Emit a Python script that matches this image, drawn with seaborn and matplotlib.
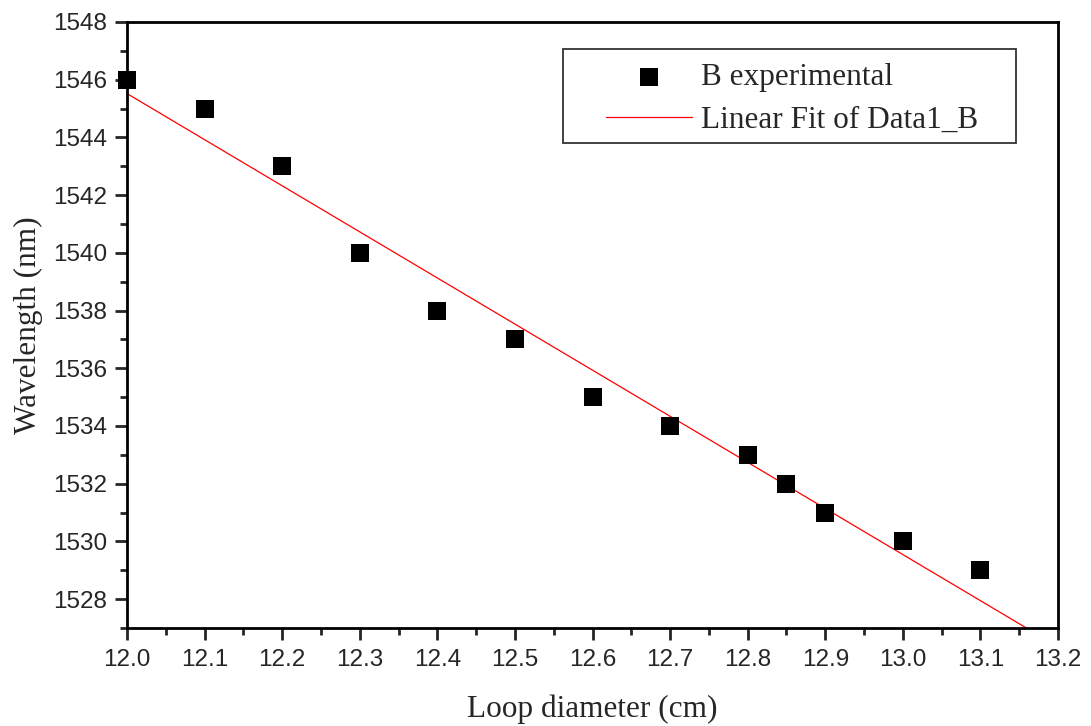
import numpy as np
import pandas as pd
import matplotlib
matplotlib.use('Agg')
import matplotlib.pyplot as plt
import seaborn as sns
from matplotlib.ticker import MultipleLocator
from matplotlib.patches import Rectangle

# dados
diametro = [12.0, 12.1, 12.2, 12.3, 12.4, 12.5, 12.6, 12.7, 12.8, 12.85, 12.9, 13.0, 13.1]
comprimento_onda = [1546, 1545, 1543, 1540, 1538, 1537, 1535, 1534, 1533, 1532, 1531, 1530, 1529]

# reta do ajuste linear (extremos)
fit_x = [12.0, 13.2]
fit_y = [1545.52, 1526.35]

dados = pd.DataFrame({'x': diametro, 'y': comprimento_onda})
ajuste = pd.DataFrame({'x': fit_x, 'y': fit_y})

sns.set_style('ticks')
plt.rcParams['font.family'] = ['Liberation Sans', 'DejaVu Sans']

fig = plt.figure(figsize=(10.91, 7.26), dpi=100)
ax = fig.add_axes([127 / 1091, 1 - 628 / 726, 931 / 1091, 606 / 726])

sns.scatterplot(data=dados, x='x', y='y', marker='s', s=150, color='black',
                edgecolor='black', linewidth=0, ax=ax, label='B experimental',
                zorder=3, clip_on=False)
sns.lineplot(data=ajuste, x='x', y='y', color='red', linewidth=0.9, ax=ax,
             label='Linear Fit of Data1_B', zorder=2)

ax.set_xlim(12.0, 13.2)
ax.set_ylim(1527, 1548)
ax.xaxis.set_minor_locator(MultipleLocator(0.05))
ax.yaxis.set_major_locator(MultipleLocator(2))
ax.yaxis.set_minor_locator(MultipleLocator(1))
ax.set_xticks(np.round(np.arange(12.0, 13.21, 0.1), 2))
ax.set_xticklabels([f'{v:.1f}' for v in np.arange(12.0, 13.21, 0.1)])

ax.tick_params(which='major', direction='out', length=8.6, width=2, labelsize=17.5,
               top=False, right=False)
ax.tick_params(axis='y', which='major', pad=5.5)
ax.tick_params(axis='x', which='major', pad=6.5)
ax.tick_params(which='minor', direction='out', length=5, width=2,
               top=False, right=False)
for s in ax.spines.values():
    s.set_linewidth(2)
    s.set_visible(True)
    s.set_color('black')

serif = ['Liberation Serif', 'DejaVu Serif']
ax.set_xlabel('Loop diameter (cm)', fontsize=22.5, family=serif, va='baseline')
ax.xaxis.set_label_coords(0.5, (628 - 717) / 606)
ax.set_ylabel('Wavelength (nm)', fontsize=22.5, family=serif)
ax.yaxis.set_label_coords((43 - 127) / 931, 0.5)

# legenda sem moldura + moldura desenhada a parte
leg = ax.legend(loc='upper left', bbox_to_anchor=((606 - 127) / 931, (628 - 63) / 606),
                frameon=False, prop={'family': serif, 'size': 22.5},
                handlelength=2.75, borderpad=0, borderaxespad=0,
                labelspacing=0.45, handletextpad=0.3)
ax.add_patch(Rectangle(((563 - 127) / 931, (628 - 143) / 606),
                       (1016 - 563) / 931, (143 - 49) / 606,
                       transform=ax.transAxes, fill=False, edgecolor='#333333',
                       linewidth=1.3, zorder=5))

fig.savefig('out.png', dpi=100)
